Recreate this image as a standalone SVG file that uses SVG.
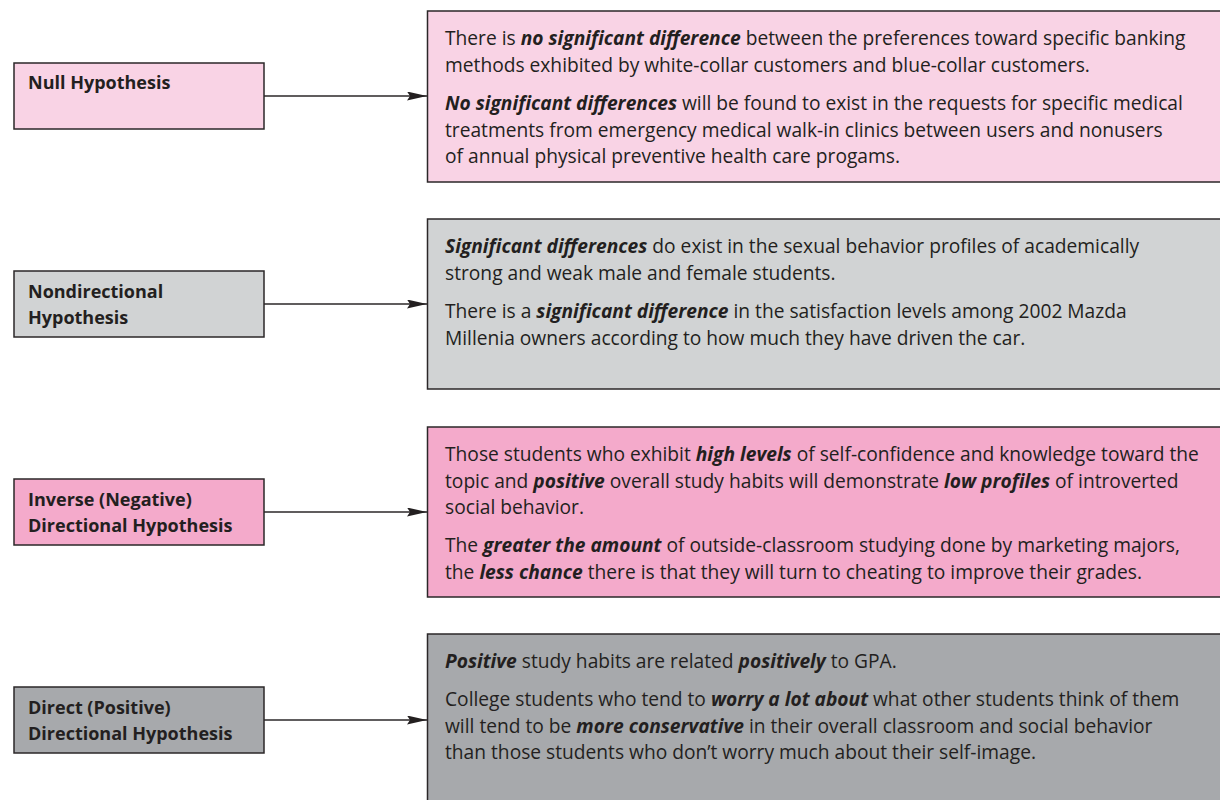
<svg xmlns="http://www.w3.org/2000/svg" width="1220" height="800" viewBox="0 0 1220 800">
  <style>
    .box { stroke: #2b2728; stroke-width: 1.5; }
    .pink1 { fill: #f9d3e5; }
    .grey1 { fill: #d1d3d4; }
    .pink2 { fill: #f4aacb; }
    .grey2 { fill: #a7a9ac; }
    .label { font-family: "Open Sans", "Liberation Sans", sans-serif; font-weight: bold; font-size: 18px; fill: #231f20; }
    .body { font-family: "Open Sans", "Liberation Sans", sans-serif; font-size: 19.2px; fill: #231f20; }
    .em { font-weight: bold; font-style: italic; }
    .conn { stroke: #2b2728; stroke-width: 1.5; fill: none; }
  </style>
  <defs>
    <marker id="arrow" viewBox="0 0 20 9" refX="20" refY="4.5" markerWidth="20" markerHeight="9" markerUnits="userSpaceOnUse" orient="auto">
      <path d="M0,0 L20,4.5 L0,9 L3,4.5 Z" fill="#231f20"/>
    </marker>
  </defs>
  <rect width="1220" height="800" fill="#ffffff"/>

  <!-- connectors from each hypothesis type to its examples -->
  <g id="connectors">
    <line class="conn" x1="264" y1="96" x2="427" y2="96" marker-end="url(#arrow)"/>
    <line class="conn" x1="264" y1="304" x2="427" y2="304" marker-end="url(#arrow)"/>
    <line class="conn" x1="264" y1="512" x2="427" y2="512" marker-end="url(#arrow)"/>
    <line class="conn" x1="264" y1="720" x2="427" y2="720" marker-end="url(#arrow)"/>
  </g>

  <!-- null hypothesis -->
  <g id="null-label">
    <rect class="box pink1" x="14" y="63" width="250" height="66"/>
    <text class="label" x="28" y="89">Null Hypothesis</text>
  </g>
  <g id="null-examples">
    <rect class="box pink1" x="427.5" y="11" width="800" height="171"/>
    <text class="body" x="445" y="45">There is <tspan class="em">no significant difference</tspan> between the preferences toward specific banking</text>
    <text class="body" x="445" y="71.5">methods exhibited by white-collar customers and blue-collar customers.</text>
    <text class="body" x="445" y="110"><tspan class="em">No significant differences</tspan> will be found to exist in the requests for specific medical</text>
    <text class="body" x="445" y="136.5">treatments from emergency medical walk-in clinics between users and nonusers</text>
    <text class="body" x="445" y="163">of annual physical preventive health care progams.</text>
  </g>

  <!-- nondirectional hypothesis -->
  <g id="nondirectional-label">
    <rect class="box grey1" x="14" y="271" width="250" height="66"/>
    <text class="label" x="28" y="298">Nondirectional</text>
    <text class="label" x="28" y="324">Hypothesis</text>
  </g>
  <g id="nondirectional-examples">
    <rect class="box grey1" x="427.5" y="219" width="800" height="170"/>
    <text class="body" x="445" y="253"><tspan class="em">Significant differences</tspan> do exist in the sexual behavior profiles of academically</text>
    <text class="body" x="445" y="279.5">strong and weak male and female students.</text>
    <text class="body" x="445" y="318">There is a <tspan class="em">significant difference</tspan> in the satisfaction levels among 2002 Mazda</text>
    <text class="body" x="445" y="344.5">Millenia owners according to how much they have driven the car.</text>
  </g>

  <!-- inverse (negative) directional hypothesis -->
  <g id="inverse-label">
    <rect class="box pink2" x="14" y="479" width="250" height="66"/>
    <text class="label" x="28" y="506">Inverse (Negative)</text>
    <text class="label" x="28" y="532">Directional Hypothesis</text>
  </g>
  <g id="inverse-examples">
    <rect class="box pink2" x="427.5" y="427" width="800" height="170"/>
    <text class="body" x="445" y="461">Those students who exhibit <tspan class="em">high levels</tspan> of self-confidence and knowledge toward the</text>
    <text class="body" x="445" y="487.5">topic and <tspan class="em">positive</tspan> overall study habits will demonstrate <tspan class="em">low profiles</tspan> of introverted</text>
    <text class="body" x="445" y="514">social behavior.</text>
    <text class="body" x="445" y="552">The <tspan class="em">greater the amount</tspan> of outside-classroom studying done by marketing majors,</text>
    <text class="body" x="445" y="578.5">the <tspan class="em">less chance</tspan> there is that they will turn to cheating to improve their grades.</text>
  </g>

  <!-- direct (positive) directional hypothesis -->
  <g id="direct-label">
    <rect class="box grey2" x="14" y="687" width="250" height="66"/>
    <text class="label" x="28" y="714">Direct (Positive)</text>
    <text class="label" x="28" y="740">Directional Hypothesis</text>
  </g>
  <g id="direct-examples">
    <rect class="box grey2" x="427.5" y="634" width="800" height="180"/>
    <text class="body" x="445" y="668"><tspan class="em">Positive</tspan> study habits are related <tspan class="em">positively</tspan> to GPA.</text>
    <text class="body" x="445" y="706">College students who tend to <tspan class="em">worry a lot about</tspan> what other students think of them</text>
    <text class="body" x="445" y="732.5">will tend to be <tspan class="em">more conservative</tspan> in their overall classroom and social behavior</text>
    <text class="body" x="445" y="759">than those students who don’t worry much about their self-image.</text>
  </g>
</svg>
